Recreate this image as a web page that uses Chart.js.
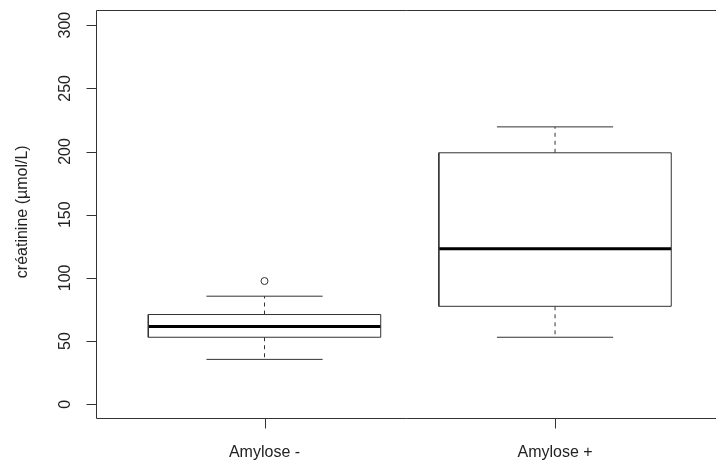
<!DOCTYPE html>
<html>
<head>
<meta charset="utf-8">
<script src="https://cdn.jsdelivr.net/npm/chart.js@4.4.0/dist/chart.umd.min.js"></script>
<style>
html, body { margin: 0; padding: 0; background: #fff; overflow: hidden; }
canvas { display: block; }
</style>
</head>
<body>
<canvas id="myChart" width="716" height="464"></canvas>
<script>
// boxplot stats per group
var categories = ["Amylose -", "Amylose +"];
var lowerWhisker = [35.5, 53];
var q1 = [53, 77.5];
var median = [61.5, 123];
var q3 = [71, 199];
var upperWhisker = [85.5, 219.5];
var outliers = [[97.5], []];
var yTicks = [0, 50, 100, 150, 200, 250, 300];
var yTitle = "créatinine (µmol/L)";

var boxHalf = 0.4, capHalf = 0.2;
var boxPts = [], medPts = [], whiskPts = [], capPts = [], outPts = [];

categories.forEach(function(c, i) {
    var x = i + 1;
    boxPts.push({x: x - boxHalf, y: q1[i]}, {x: x + boxHalf, y: q1[i]}, {x: x + boxHalf, y: q3[i]},
                {x: x - boxHalf, y: q3[i]}, {x: x - boxHalf, y: q1[i]}, {x: x, y: null});
    medPts.push({x: x - boxHalf, y: median[i]}, {x: x + boxHalf, y: median[i]}, {x: x, y: null});
    whiskPts.push({x: x, y: q3[i]}, {x: x, y: upperWhisker[i]}, {x: x, y: null},
                  {x: x, y: q1[i]}, {x: x, y: lowerWhisker[i]}, {x: x, y: null});
    capPts.push({x: x - capHalf, y: upperWhisker[i]}, {x: x + capHalf, y: upperWhisker[i]}, {x: x, y: null},
                {x: x - capHalf, y: lowerWhisker[i]}, {x: x + capHalf, y: lowerWhisker[i]}, {x: x, y: null});
    outliers[i].forEach(function(v) { outPts.push({x: x, y: v}); });
});

var FONT = '16px "Liberation Sans", Arial, sans-serif';

// R style frame, ticks and labels; the original is cut off on the right so no right side
var rAxes = {
    id: 'rAxes',
    afterDraw: function(chart) {
        var ctx = chart.ctx, a = chart.chartArea, xs = chart.scales.x, ys = chart.scales.y;
        ctx.save();
        ctx.strokeStyle = '#333';
        ctx.lineWidth = 1;
        var L = Math.round(a.left) + 0.5, T = Math.round(a.top) + 0.5;
        var B = Math.round(a.bottom) + 0.5, R = chart.width + 2;
        ctx.beginPath();
        ctx.moveTo(R, T);
        ctx.lineTo(L, T);
        ctx.lineTo(L, B);
        ctx.lineTo(R, B);
        ctx.stroke();

        ctx.font = FONT;
        ctx.fillStyle = '#222';
        ctx.beginPath();
        yTicks.forEach(function(v) {
            var y = Math.round(ys.getPixelForValue(v)) + 0.5;
            ctx.moveTo(L - 10, y);
            ctx.lineTo(L, y);
        });
        categories.forEach(function(c, i) {
            var x = Math.round(xs.getPixelForValue(i + 1)) + 0.5;
            ctx.moveTo(x, B);
            ctx.lineTo(x, B + 10);
        });
        ctx.stroke();

        ctx.textAlign = 'center';
        ctx.textBaseline = 'alphabetic';
        yTicks.forEach(function(v) {
            var y = ys.getPixelForValue(v);
            ctx.save();
            ctx.translate(70, y);
            ctx.rotate(-Math.PI / 2);
            ctx.fillText(String(v), 0, 0);
            ctx.restore();
        });
        categories.forEach(function(c, i) {
            ctx.fillText(c, xs.getPixelForValue(i + 1), 457);
        });

        ctx.save();
        ctx.translate(27, (a.top + a.bottom) / 2 - 2);
        ctx.rotate(-Math.PI / 2);
        ctx.fillText(yTitle, 0, 0);
        ctx.restore();
        ctx.restore();
    }
};

var seg = { type: 'line', pointRadius: 0, tension: 0, fill: false, spanGaps: false,
            borderCapStyle: 'butt', borderJoinStyle: 'miter' };

var ctx = document.getElementById('myChart').getContext('2d');
window.myChart = new Chart(ctx, {
    data: {
        datasets: [
            Object.assign({}, seg, { data: whiskPts, borderColor: '#333', borderWidth: 1, borderDash: [4, 4] }),
            Object.assign({}, seg, { data: capPts, borderColor: '#333', borderWidth: 1 }),
            Object.assign({}, seg, { data: boxPts, borderColor: '#333', borderWidth: 1 }),
            Object.assign({}, seg, { data: medPts, borderColor: '#000', borderWidth: 3 }),
            { type: 'scatter', data: outPts, pointRadius: 3.5, pointBorderWidth: 1,
              pointBorderColor: '#333', pointBackgroundColor: '#fff', showLine: false }
        ]
    },
    options: {
        responsive: false,
        devicePixelRatio: 1,
        animation: false,
        layout: { autoPadding: false, padding: { left: 96, top: 10, right: 0, bottom: 46.5 } },
        plugins: { legend: { display: false }, tooltip: { enabled: false } },
        scales: {
            // R pads the 0.5..2.5 range by 4%; the plot is clipped at the window edge
            x: { type: 'linear', min: 0.42, max: 2.554, display: false },
            y: { type: 'linear', min: -10.5, max: 312, display: false }
        }
    },
    plugins: [rAxes]
});
</script>
</body>
</html>
